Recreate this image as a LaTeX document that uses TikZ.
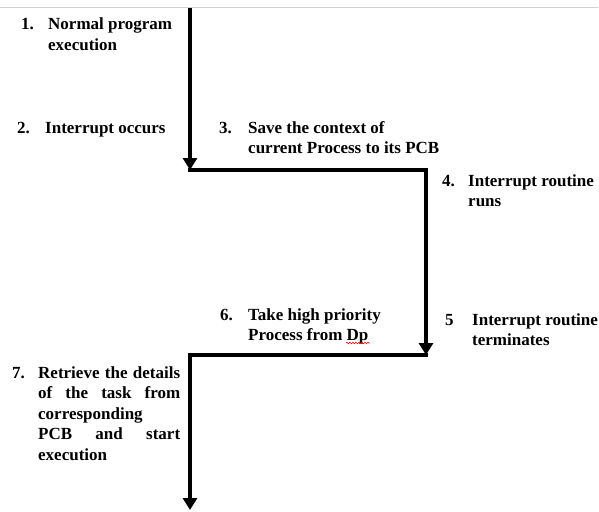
\documentclass[tikz,border=0pt]{standalone}
\usepackage{fontspec}
\setmainfont{Liberation Serif}
\usetikzlibrary{arrows.meta,decorations.pathmorphing}
% lines stacked downward from the first baseline
\newcommand{\steplines}[1]{\vtop{\baselineskip=20.5pt\lineskiplimit=-20pt
  \halign{##\hfil\cr#1\crcr}}}
\begin{document}
\begin{tikzpicture}[x=1pt,y=-1pt,
  steplabel/.style={anchor=base west, inner sep=0pt,
    font=\bfseries\fontsize{17}{20.5}\selectfont},
  flow/.style={line width=4pt, line join=miter,
    -{Triangle[width=14pt,length=12pt]}},
  rule/.style={draw=black!18, line width=1pt},
  spell/.style={draw=red, line width=0.6pt, decorate,
    decoration={snake, amplitude=0.8pt, segment length=3pt}}]
\useasboundingbox (0,0) rectangle (599,511);

% thin rule across the top
\coordinate (r0) at (0,8);
\coordinate (r1) at (598,8);
\draw[rule] (r0) -- (r1);

% corners of the control-flow line
\coordinate (s0) at (190,8);
\coordinate (c1) at (190,170);
\coordinate (c1a) at (188,170);
\coordinate (c2) at (426,170);
\coordinate (c3) at (426,355);
\coordinate (c3a) at (428,355);
\coordinate (c4) at (190,355);
\coordinate (e)  at (190,510);

\draw[flow] (s0) -- (c1);
\draw[flow] (c1a) -- (c2) -- (c3);
\draw[flow] (c3a) -- (c4) -- (e);

% step labels
\node[steplabel] (n1) at (21,30) {1.};
\node[steplabel] (t1) at (48,30) {\steplines{Normal program\cr execution}};
\node[steplabel] (n2) at (17,133) {2.};
\node[steplabel] (t2) at (45,133) {Interrupt occurs};
\node[steplabel] (n3) at (219,133) {3.};
\node[steplabel] (t3) at (248,133) {\steplines{Save the context of\cr current Process to its PCB}};
\node[steplabel] (n4) at (442,186) {4.};
\node[steplabel] (t4) at (468,186) {\steplines{Interrupt routine\cr runs}};
\node[steplabel] (n6) at (220,320) {6.};
\node[steplabel] (t6) at (248,320) {\steplines{Take high priority\cr Process from Dp}};
\node[steplabel] (n5) at (445,325) {5};
\node[steplabel] (t5) at (472,325) {\steplines{Interrupt routine\cr terminates}};
\node[steplabel] (n7) at (12,378) {7.};
\node[steplabel] (t7) at (38,378) {\steplines{\makebox[142pt][s]{Retrieve the details}\cr
  \makebox[142pt][s]{of the task from}\cr
  corresponding\cr
  \makebox[142pt][s]{PCB and start}\cr
  execution}};

% spell-check squiggle under "Dp"
\coordinate (w0) at (346,343);
\coordinate (w1) at (370,343);
\draw[spell] (w0) -- (w1);
\end{tikzpicture}
\end{document}
